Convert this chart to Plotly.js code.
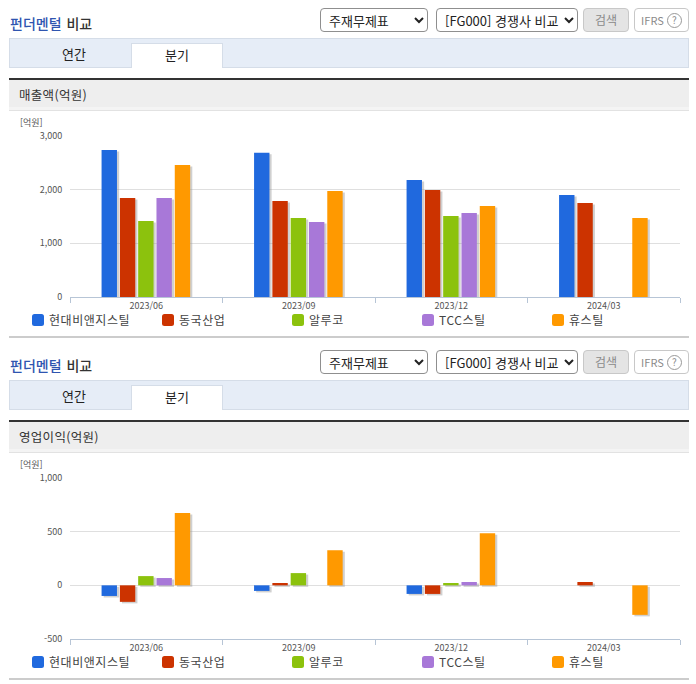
<!DOCTYPE html>
<html lang="ko">
<head>
<meta charset="utf-8">
<title>펀더멘털 비교</title>
<script src="https://cdn.plot.ly/plotly-3.0.1.min.js"></script>
<style>
html,body{margin:0;padding:0;background:#fff;}
body{width:696px;height:684px;position:relative;overflow:hidden;font-family:"Noto Sans CJK KR","Noto Sans",sans-serif;color:#333;}
.abs{position:absolute;box-sizing:border-box;}
.ttl{font-size:14px;font-weight:500;line-height:18px;color:#333;left:10px;word-spacing:1px;}
.ttl b{color:#2f55b0;font-weight:500;}
select.abs{font:13px "Noto Sans CJK KR",sans-serif;color:#222;background:#fff;border:1px solid #8f8f8f;border-radius:4px;padding:0 0 0 4px;margin:0;height:24px;}
.btn{font-size:12px;line-height:22px;text-align:center;border-radius:4px;height:24px;}
.tabbar{left:9px;width:680px;height:30px;background:#e6edf7;border:1px solid #d5dde8;}
.tab{width:92px;height:25px;background:#fff;border:1px solid #d5dde8;border-bottom:none;font-size:13px;line-height:22px;text-align:center;color:#222;}
.tabt{font-size:13px;line-height:22px;text-align:center;color:#222;width:92px;}
.hdr{left:9px;width:680px;height:33px;background:linear-gradient(#eee 0,#eee 27px,#f4f4f4 27px);border-top:2px solid #333;border-bottom:1px solid #e2e2e2;font-size:12.5px;line-height:29px;padding-left:10px;color:#333;letter-spacing:.3px;}
.end{left:9px;width:680px;height:2px;background:#ccc;}
.sw{width:12px;height:12px;border-radius:2.5px;}
.lg{font-size:12px;line-height:16px;color:#444;white-space:nowrap;letter-spacing:.55px;}
.plot{left:0;width:696px;height:224px;}
</style>
</head>
<body>
<script>
var categories = ["2023/06","2023/09","2023/12","2024/03"];
var seriesNames = ["현대비앤지스틸","동국산업","알루코","TCC스틸","휴스틸"];
var seriesColors = ["#2069de","#cc3300","#8cc20d","#a878d8","#ff9900"];

var salesBlue   = [2740,2690,2180,1900];
var salesRed    = [1844,1788,1993,1750];
var salesGreen  = [1415,1471,1508,null];
var salesPurple = [1844,1396,1564,null];
var salesOrange = [2460,1975,1695,1471];

var profitBlue   = [-99,-52,-80,null];
var profitRed    = [-154,22,-80,31];
var profitGreen  = [86,114,22,null];
var profitPurple = [68,null,31,null];
var profitOrange = [673,327,485,-275];

var salesTicks  = [0,1000,2000,3000];
var salesTickLabels = ["0","1,000","2,000","3,000"];
var profitTicks = [-500,0,500,1000];
var profitTickLabels = ["-500","0","500","1,000"];

var sectionTitles = ["매출액(억원)","영업이익(억원)"];
var unitLabel = "[억원]";
var legendLeft = [32,162,292,422,552];

function el(tag, cls, css, html){
  var e = document.createElement(tag);
  e.className = cls;
  e.style.cssText = css;
  if (html !== undefined) e.innerHTML = html;
  document.body.appendChild(e);
  return e;
}

function chrome(dy, title){
  el('div','abs ttl','top:'+(14+dy)+'px;','<b>펀더멘털</b> 비교');
  el('select','abs','left:320px;top:'+(8+dy)+'px;width:108px;','<option>주재무제표</option>');
  el('select','abs','left:436px;top:'+(8+dy)+'px;width:142px;','<option>[FG000] 경쟁사 비교</option>');
  el('div','abs btn','left:583px;top:'+(8+dy)+'px;width:46px;background:#e4e4e4;border:1px solid #c8c8c8;color:#8a8a8a;','검색');
  el('div','abs btn','left:634px;top:'+(8+dy)+'px;width:55px;background:#fff;border:1px solid #c8c8c8;color:#8a8a8a;font-size:11px;',
     'IFRS <span style="display:inline-block;width:13px;height:13px;line-height:12px;border:1px solid #999;border-radius:50%;font-size:10px;vertical-align:1px;">?</span>');
  el('div','abs tabbar','top:'+(38+dy)+'px;');
  el('div','abs tabt','left:28px;top:'+(43+dy)+'px;','연간');
  el('div','abs tab','left:131px;top:'+(43+dy)+'px;','분기');
  el('div','abs hdr','top:'+(78+dy)+'px;',title);
  el('div','abs end','top:'+(336+dy)+'px;');
  for (var i=0;i<seriesNames.length;i++){
    el('div','abs sw','left:'+legendLeft[i]+'px;top:'+(314+dy)+'px;background:'+seriesColors[i]+';');
    el('div','abs lg','left:'+(legendLeft[i]+17)+'px;top:'+(312+dy)+'px;',seriesNames[i]);
  }
}

function drawChart(dy, seriesValues, ticks, tickLabels, yRange, shadowDrop){
  var d = el('div','abs plot','top:'+(112+dy)+'px;');
  var pitch = 0.12, width = 0.101, start = -0.293, shift = 0.014;
  var traces = [];
  seriesValues.forEach(function(vals,i){
    traces.push({type:'bar',x:categories,y:vals,base:-shadowDrop,width:width,offset:start+i*pitch+shift,
      marker:{color:'rgba(150,150,150,0.45)',line:{width:0}},hoverinfo:'skip',showlegend:false});
  });
  seriesValues.forEach(function(vals,i){
    traces.push({type:'bar',name:seriesNames[i],x:categories,y:vals,width:width,offset:start+i*pitch,
      marker:{color:seriesColors[i],line:{width:0}},showlegend:false});
  });
  var layout = {
    width:696,height:224,
    margin:{l:69.5,r:16.3,t:24,b:39,pad:0},
    paper_bgcolor:'rgba(0,0,0,0)',plot_bgcolor:'rgba(0,0,0,0)',
    barmode:'overlay',showlegend:false,
    font:{family:'"Noto Sans CJK KR","Noto Sans",sans-serif',size:9,color:'#555'},
    xaxis:{type:'category',categoryorder:'array',categoryarray:categories,range:[-0.5,3.5],tickson:'boundaries',
      ticks:'outside',ticklen:5,tickwidth:1,tickcolor:'#b7c5d6',showline:true,linecolor:'#b7c5d6',linewidth:1,
      showgrid:false,zeroline:false,tickfont:{size:9,color:'#555'},fixedrange:true},
    yaxis:{range:yRange,tickmode:'array',tickvals:ticks,ticktext:tickLabels,showgrid:true,gridcolor:'#dfdfdf',gridwidth:1,
      zeroline:true,zerolinecolor:'#dfdfdf',zerolinewidth:1,showline:false,ticks:'outside',ticklen:5,tickcolor:'rgba(0,0,0,0)',
      tickfont:{size:9,color:'#555'},fixedrange:true},
    annotations:[{xref:'paper',yref:'paper',x:-52/610.2,y:1+(24-11)/161,xanchor:'left',yanchor:'middle',showarrow:false,
      text:unitLabel,font:{size:9,color:'#555'}}]
  };
  Plotly.newPlot(d,traces,layout,{displayModeBar:false});
}

chrome(0, sectionTitles[0]);
chrome(342, sectionTitles[1]);
drawChart(0,[salesBlue,salesRed,salesGreen,salesPurple,salesOrange],salesTicks,salesTickLabels,[0,3000],28);
drawChart(342,[profitBlue,profitRed,profitGreen,profitPurple,profitOrange],profitTicks,profitTickLabels,[-500,1000],14);
</script>
</body>
</html>
